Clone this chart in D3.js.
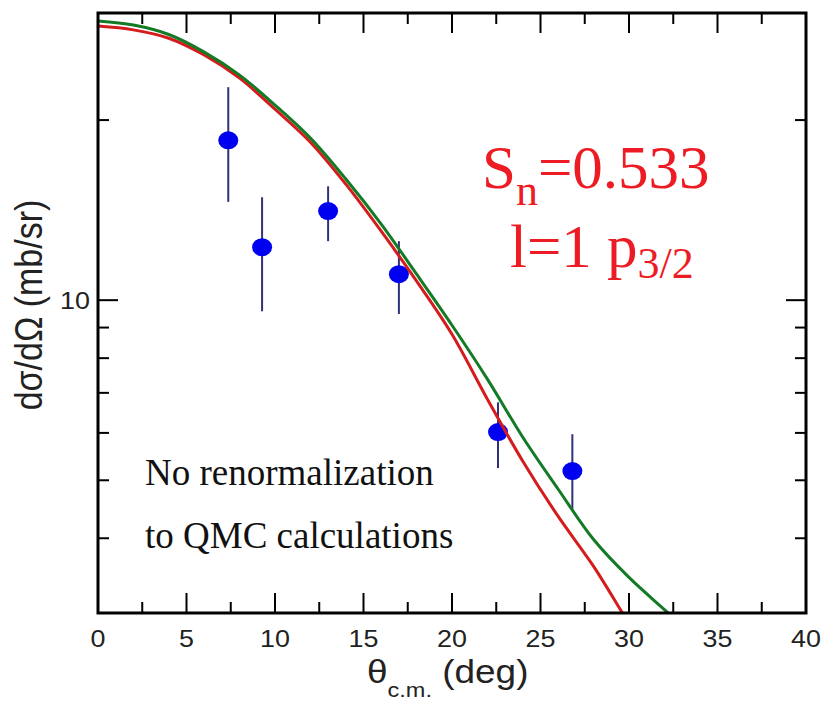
<!DOCTYPE html>
<html>
<head>
<meta charset="utf-8">
<script src="https://cdn.jsdelivr.net/npm/d3@7"></script>
<style>
  body { margin: 0; background: #fff; }
  svg { display: block; }
</style>
</head>
<body>
<div id="chart"></div>
<script>
// ---- data ----
var pointTheta = [7.36, 9.27, 13.0, 17.0, 22.6, 26.8],
    pointValue = [18.5, 12.26, 14.09, 11.05, 6.02, 5.18],
    pointLow   = [14.6, 9.58, 12.55, 9.48, 5.24, 4.47],
    pointHigh  = [22.7, 14.86, 15.5, 12.55, 6.75, 5.97];

var redTheta = [0, 2, 4, 6, 8, 10, 12, 14, 16, 18, 20, 22, 24, 26, 28, 29.6, 30],
    redValue = [28.72, 28.3, 27.4, 25.69, 23.5, 20.86, 18.37, 15.63, 13.04, 10.76, 8.77, 6.83, 5.38, 4.35, 3.59, 3.01, 2.88];

var greenTheta = [0, 2, 4, 6, 8, 10, 12, 14, 16, 18, 20, 22, 24, 26, 28, 30, 32, 33],
    greenValue = [29.28, 28.83, 27.8, 25.98, 23.78, 21.19, 18.66, 15.94, 13.4, 11.05, 9.08, 7.38, 5.9, 4.83, 3.98, 3.44, 3.04, 2.86];

var xMajorTicks = [0, 5, 10, 15, 20, 25, 30, 35, 40],
    xMinorTicks = [2.5, 7.5, 12.5, 17.5, 22.5, 27.5, 32.5, 37.5],
    yMajorTicks = [10],
    yMinorTicks = [4, 5, 6, 7, 8, 9, 20];

var width = 825, height = 701,
    margin = {left: 98, top: 13, right: 19, bottom: 88},
    plotW = width - margin.left - margin.right,
    plotH = height - margin.top - margin.bottom,
    stretch = 1.12;

var svg = d3.select("#chart").append("svg")
    .attr("width", width)
    .attr("height", height);

var xScale = d3.scaleLinear().domain([0, 40]).range([margin.left, margin.left + plotW]);
var yScale = d3.scaleLog().domain([3, 30.2]).range([margin.top + plotH, margin.top]);

svg.append("clipPath").attr("id", "clip")
    .append("rect")
    .attr("x", margin.left).attr("y", margin.top)
    .attr("width", plotW).attr("height", plotH);

// ---- ticks (inside, on all four sides) ----
var tickG = svg.append("g").attr("stroke", "#000").attr("stroke-width", 2);
var bottomY = margin.top + plotH, leftX = margin.left, rightX = margin.left + plotW, topY = margin.top;

function xTicks(vals, len) {
    vals.forEach(function (v) {
        tickG.append("line").attr("x1", xScale(v)).attr("x2", xScale(v)).attr("y1", bottomY).attr("y2", bottomY - len);
        tickG.append("line").attr("x1", xScale(v)).attr("x2", xScale(v)).attr("y1", topY).attr("y2", topY + len);
    });
}
function yTicks(vals, len) {
    vals.forEach(function (v) {
        tickG.append("line").attr("y1", yScale(v)).attr("y2", yScale(v)).attr("x1", leftX).attr("x2", leftX + len);
        tickG.append("line").attr("y1", yScale(v)).attr("y2", yScale(v)).attr("x1", rightX).attr("x2", rightX - len);
    });
}
xTicks(xMajorTicks.slice(1, -1), 20);
xTicks(xMinorTicks, 11);
yTicks(yMajorTicks, 20);
yTicks(yMinorTicks, 11);

// tick labels
xMajorTicks.forEach(function (v) {
    svg.append("text")
        .attr("transform", "translate(" + xScale(v) + "," + (bottomY + 34) + ") scale(" + stretch + ",1)")
        .attr("text-anchor", "middle")
        .attr("font-family", "Liberation Sans, Arial, sans-serif")
        .attr("font-size", 24)
        .attr("fill", "#222")
        .text(v);
});
yMajorTicks.forEach(function (v) {
    svg.append("text")
        .attr("transform", "translate(" + (leftX - 8) + "," + (yScale(v) + 9) + ") scale(" + stretch + ",1)")
        .attr("text-anchor", "end")
        .attr("font-family", "Liberation Sans, Arial, sans-serif")
        .attr("font-size", 24)
        .attr("fill", "#222")
        .text(v);
});

// axis titles
var xt = svg.append("text")
    .attr("transform", "translate(367,683) scale(" + stretch + ",1)")
    .attr("font-family", "Liberation Sans, Arial, sans-serif")
    .attr("font-size", 33)
    .attr("fill", "#222");
xt.append("tspan").text("θ");
xt.append("tspan").attr("font-size", 21).attr("dy", 14).text("c.m.");
xt.append("tspan").attr("dy", -14).text(" (deg)");

svg.append("text")
    .attr("transform", "translate(42,305) rotate(-90) scale(1," + stretch + ")")
    .attr("text-anchor", "middle")
    .attr("font-family", "Liberation Sans, Arial, sans-serif")
    .attr("font-size", 34)
    .attr("fill", "#222")
    .text("dσ/dΩ (mb/sr)");

// ---- data points with error bars ----
var pts = pointTheta.map(function (t, i) {
    return {theta: t, value: pointValue[i], low: pointLow[i], high: pointHigh[i]};
});

svg.append("g").selectAll("line")
    .data(pts).enter().append("line")
    .attr("x1", function (d) { return xScale(d.theta); })
    .attr("x2", function (d) { return xScale(d.theta); })
    .attr("y1", function (d) { return yScale(d.low); })
    .attr("y2", function (d) { return yScale(d.high); })
    .attr("stroke", "#30307a")
    .attr("stroke-width", 2);

svg.append("g").selectAll("ellipse")
    .data(pts).enter().append("ellipse")
    .attr("cx", function (d) { return xScale(d.theta); })
    .attr("cy", function (d) { return yScale(d.value); })
    .attr("rx", 10)
    .attr("ry", 9)
    .attr("fill", "#0000f0");

// ---- calculated curves ----
var line = d3.line()
    .x(function (d) { return xScale(d[0]); })
    .y(function (d) { return yScale(d[1]); })
    .curve(d3.curveCatmullRom);

svg.append("path")
    .datum(d3.zip(redTheta, redValue))
    .attr("clip-path", "url(#clip)")
    .attr("fill", "none")
    .attr("stroke", "#d41c1c")
    .attr("stroke-width", 3)
    .attr("d", line);

svg.append("path")
    .datum(d3.zip(greenTheta, greenValue))
    .attr("clip-path", "url(#clip)")
    .attr("fill", "none")
    .attr("stroke", "#137a25")
    .attr("stroke-width", 3)
    .attr("d", line);

// frame
svg.append("rect")
    .attr("x", margin.left).attr("y", margin.top)
    .attr("width", plotW).attr("height", plotH)
    .attr("fill", "none")
    .attr("stroke", "#000")
    .attr("stroke-width", 3);

// ---- annotations ----
var red = "#ed1c24";
var t1 = svg.append("text")
    .attr("x", 482).attr("y", 188)
    .attr("font-family", "Liberation Serif, Times New Roman, serif")
    .attr("font-size", 61)
    .attr("fill", red);
t1.append("tspan").text("S");
t1.append("tspan").attr("font-size", 44).attr("dy", 17).text("n");
t1.append("tspan").attr("dy", -17).text("=0.533");

var t2 = svg.append("text")
    .attr("x", 510).attr("y", 267)
    .attr("font-family", "Liberation Serif, Times New Roman, serif")
    .attr("font-size", 61)
    .attr("fill", red);
t2.append("tspan").text("l=1 p");
t2.append("tspan").attr("font-size", 44).attr("dy", 11).text("3/2");

svg.append("text")
    .attr("x", 145).attr("y", 485)
    .attr("font-family", "Liberation Serif, Times New Roman, serif")
    .attr("font-size", 37)
    .attr("fill", "#111")
    .text("No renormalization");

svg.append("text")
    .attr("x", 145).attr("y", 548)
    .attr("font-family", "Liberation Serif, Times New Roman, serif")
    .attr("font-size", 37)
    .attr("fill", "#111")
    .text("to QMC calculations");
</script>
</body>
</html>
